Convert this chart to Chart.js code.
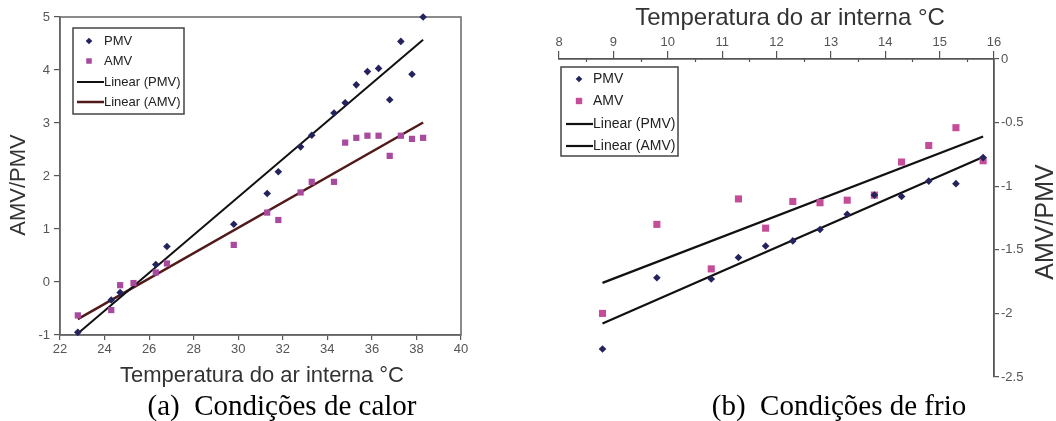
<!DOCTYPE html>
<html>
<head>
<meta charset="utf-8">
<script src="https://cdn.jsdelivr.net/npm/chart.js@4.4.1/dist/chart.umd.min.js"></script>
<style>
  body { margin: 0; background: #fff; width: 1056px; height: 421px; position: relative; overflow: hidden; }
  #heat { position: absolute; left: 0; top: 0; }
  #cold { position: absolute; left: 540px; top: 0; }
  .caption { position: absolute; top: 391px; font-family: "Liberation Serif", "Times New Roman", serif;
             font-size: 29px; line-height: 29px; color: #000; white-space: pre; transform: translateX(-50%); }
</style>
</head>
<body>
<canvas id="heat" width="490" height="390"></canvas>
<canvas id="cold" width="516" height="390"></canvas>
<div class="caption" style="left:282px">(a)  Condições de calor</div>
<div class="caption" style="left:839px">(b)  Condições de frio</div>
<script>
// (a) calor
var heatTemp = [22.8, 24.3, 24.7, 25.3, 26.3, 26.8, 29.8, 31.3, 31.8, 32.8, 33.3, 34.3, 34.8, 35.3, 35.8, 36.3, 36.8, 37.3, 37.8, 38.3];
var heatPMV  = [-0.95, -0.34, -0.2, null, 0.33, 0.67, 1.09, 1.67, 2.08, 2.55, 2.77, 3.19, 3.38, 3.72, 3.97, 4.03, 3.44, 4.54, 3.92, 5.0];
var heatAMV  = [-0.63, -0.53, -0.06, -0.02, 0.18, 0.35, 0.70, 1.31, 1.17, 1.69, 1.89, 1.89, 2.63, 2.72, 2.76, 2.76, 2.38, 2.76, 2.70, 2.72];
var heatTrendX = [22.8, 38.3];
var heatPMVTrend = [-0.97, 4.57];
var heatAMVTrend = [-0.70, 3.01];

// (b) frio
var coldTemp = [8.8, 9.8, 10.8, 11.3, 11.8, 12.3, 12.8, 13.3, 13.8, 14.3, 14.8, 15.3, 15.8];
var coldPMV  = [-2.28, -1.72, -1.73, -1.56, -1.47, -1.43, -1.34, -1.22, -1.07, -1.08, -0.96, -0.98, -0.775];
var coldAMV  = [-2.0, -1.30, -1.65, -1.10, -1.33, -1.12, -1.13, -1.11, -1.07, -0.81, -0.68, -0.54, -0.80];
var coldTrendX = [8.8, 15.8];
var coldPMVTrend = [-2.08, -0.77];
var coldAMVTrend = [-1.76, -0.61];

var FONT = '"Liberation Sans", Arial, sans-serif';

function points(xs, ys) {
  var out = [];
  for (var i = 0; i < xs.length; i++) {
    if (ys[i] !== null) out.push({x: xs[i], y: ys[i]});
  }
  return out;
}

// box round the plot area (left chart only)
var frame = {
  id: 'frame',
  beforeDatasetsDraw: function(chart, args, o) {
    if (!o.show) return;
    var a = chart.chartArea, ctx = chart.ctx;
    ctx.save();
    ctx.strokeStyle = '#666';
    ctx.lineWidth = 1.5;
    ctx.strokeRect(a.left, a.top, a.right - a.left, a.bottom - a.top);
    ctx.restore();
  }
};

// small half-step ticks on the top axis (right chart)
var minorTicks = {
  id: 'minorTicks',
  afterDraw: function(chart, args, o) {
    if (!o.show) return;
    var sc = chart.scales.x, ctx = chart.ctx, top = chart.chartArea.top;
    ctx.save();
    ctx.strokeStyle = '#555';
    ctx.lineWidth = 1.2;
    for (var v = sc.min + 0.5; v < sc.max; v += 1) {
      var px = Math.round(sc.getPixelForValue(v)) + 0.5;
      ctx.beginPath();
      ctx.moveTo(px, top - 1);
      ctx.lineTo(px, top + 3);
      ctx.stroke();
    }
    ctx.restore();
  }
};

var axisTitles = {
  id: 'axisTitles',
  afterDraw: function(chart, args, o) {
    var ctx = chart.ctx;
    (o.items || []).forEach(function(t) {
      ctx.save();
      ctx.translate(t.x, t.y);
      if (t.rot) ctx.rotate(t.rot);
      ctx.font = t.size + 'px ' + FONT;
      ctx.fillStyle = '#333';
      ctx.textAlign = 'center';
      ctx.textBaseline = 'middle';
      ctx.fillText(t.text, 0, 0);
      ctx.restore();
    });
  }
};

var boxLegend = {
  id: 'boxLegend',
  afterDraw: function(chart, args, o) {
    if (!o.box) return;
    var ctx = chart.ctx, b = o.box;
    ctx.save();
    ctx.fillStyle = '#fff';
    ctx.fillRect(b[0], b[1], b[2] - b[0], b[3] - b[1]);
    ctx.strokeStyle = '#444';
    ctx.lineWidth = 1.5;
    ctx.strokeRect(b[0], b[1], b[2] - b[0], b[3] - b[1]);
    chart.data.datasets.forEach(function(ds, i) {
      var y = o.rows[i];
      if (ds.showLine) {
        ctx.strokeStyle = ds.borderColor;
        ctx.lineWidth = ds.borderWidth;
        ctx.beginPath();
        ctx.moveTo(o.lineX[0], y);
        ctx.lineTo(o.lineX[1], y);
        ctx.stroke();
      } else {
        ctx.fillStyle = ds.backgroundColor;
        Chart.helpers.drawPoint(ctx, {pointStyle: ds.pointStyle, radius: ds.pointRadius - 0.5, borderWidth: 0, rotation: 0}, o.markerX, y);
      }
      ctx.fillStyle = '#222';
      ctx.font = o.fontSize + 'px ' + FONT;
      ctx.textAlign = 'left';
      ctx.textBaseline = 'middle';
      ctx.fillText(ds.label, o.textX, y);
    });
    ctx.restore();
  }
};

function tickOpts(step, pad) {
  return {
    stepSize: step, color: '#555', padding: pad, font: {family: FONT, size: 13},
    callback: function(v) { return String(Math.round(v * 10) / 10); }
  };
}
function gridOpts(len) {
  return { drawOnChartArea: false, drawTicks: true, tickLength: len, color: '#555', lineWidth: 1.2 };
}

new Chart(document.getElementById('heat'), {
  type: 'scatter',
  data: {
    datasets: [
      { label: 'PMV', data: points(heatTemp, heatPMV), pointStyle: 'rectRot', pointRadius: 3.8,
        backgroundColor: '#24235e', borderColor: '#24235e', pointBorderWidth: 0, clip: false },
      { label: 'AMV', data: points(heatTemp, heatAMV), pointStyle: 'rect', pointRadius: 4.4,
        backgroundColor: '#a84a9e', borderColor: '#a84a9e', pointBorderWidth: 0, clip: false },
      { label: 'Linear (PMV)', data: points(heatTrendX, heatPMVTrend), showLine: true, pointRadius: 0,
        borderColor: '#111', borderWidth: 2 },
      { label: 'Linear (AMV)', data: points(heatTrendX, heatAMVTrend), showLine: true, pointRadius: 0,
        borderColor: '#521919', borderWidth: 2.5 }
    ]
  },
  options: {
    responsive: false,
    animation: false,
    events: [],
    layout: { padding: { top: 17, right: 29, left: 0, bottom: 0 } },
    plugins: {
      legend: { display: false },
      tooltip: { enabled: false },
      frame: { show: true },
      boxLegend: { box: [73, 28, 184, 114], rows: [41, 61, 82, 102], markerX: 89, textX: 104, lineX: [77, 104], fontSize: 13 },
      axisTitles: { items: [
        { text: 'Temperatura do ar interna °C', x: 262, y: 376, size: 22 },
        { text: 'AMV/PMV', x: 19, y: 185, size: 22, rot: -Math.PI / 2 }
      ] }
    },
    scales: {
      x: {
        type: 'linear', position: 'bottom', min: 22, max: 40,
        afterFit: function(s) { s.height = 55; },
        ticks: tickOpts(2, 2),
        grid: gridOpts(5),
        border: { color: '#666', width: 1.5 }
      },
      y: {
        type: 'linear', position: 'left', min: -1, max: 5,
        afterFit: function(s) { s.width = 60; },
        ticks: tickOpts(1, 4),
        grid: gridOpts(6),
        border: { color: '#666', width: 1.5 }
      }
    }
  },
  plugins: [frame, minorTicks, axisTitles, boxLegend]
});

new Chart(document.getElementById('cold'), {
  type: 'scatter',
  data: {
    datasets: [
      { label: 'PMV', data: points(coldTemp, coldPMV), pointStyle: 'rectRot', pointRadius: 3.8,
        backgroundColor: '#24235e', borderColor: '#24235e', pointBorderWidth: 0, clip: false },
      { label: 'AMV', data: points(coldTemp, coldAMV), pointStyle: 'rect', pointRadius: 5,
        backgroundColor: '#c44c98', borderColor: '#c44c98', pointBorderWidth: 0, clip: false },
      { label: 'Linear (PMV)', data: points(coldTrendX, coldPMVTrend), showLine: true, pointRadius: 0,
        borderColor: '#111', borderWidth: 2.2 },
      { label: 'Linear (AMV)', data: points(coldTrendX, coldAMVTrend), showLine: true, pointRadius: 0,
        borderColor: '#111', borderWidth: 2.2 }
    ]
  },
  options: {
    responsive: false,
    animation: false,
    events: [],
    layout: { padding: { top: 0, right: 0, left: 19, bottom: 13 } },
    plugins: {
      legend: { display: false },
      tooltip: { enabled: false },
      minorTicks: { show: true },
      boxLegend: { box: [21, 67, 138, 156], rows: [79, 101, 124, 146], markerX: 39, textX: 53, lineX: [26, 53], fontSize: 14 },
      axisTitles: { items: [
        { text: 'Temperatura do ar interna °C', x: 250, y: 18, size: 24 },
        { text: 'AMV/PMV', x: 506, y: 222, size: 25, rot: -Math.PI / 2 }
      ] }
    },
    scales: {
      x: {
        type: 'linear', position: 'top', min: 8, max: 16,
        afterFit: function(s) { s.height = 59; },
        ticks: tickOpts(1, 1),
        grid: gridOpts(8),
        border: { color: '#555', width: 1.8 }
      },
      y: {
        type: 'linear', position: 'right', min: -2.5, max: 0,
        afterFit: function(s) { s.width = 62; },
        ticks: tickOpts(0.5, 2),
        grid: gridOpts(5),
        border: { color: '#555', width: 1.8 }
      }
    }
  },
  plugins: [frame, minorTicks, axisTitles, boxLegend]
});
</script>
</body>
</html>
